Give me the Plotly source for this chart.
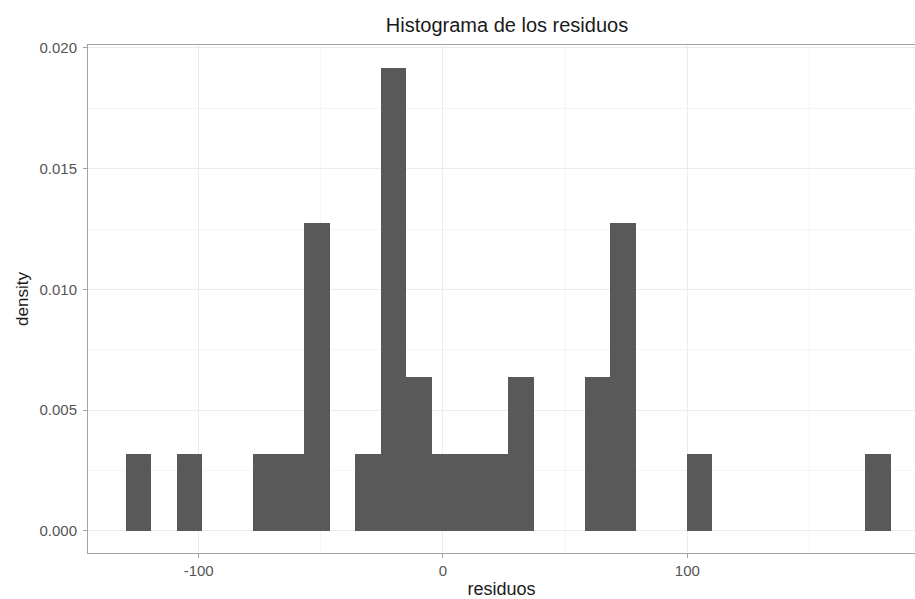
import numpy as np
import plotly.graph_objects as go

# Histogram of residuals: 30 equal-width bins, counts per bin
bin_start = -129.9
bin_width = 10.44
counts = [1, 0, 1, 0, 0, 1, 1, 4, 0, 1,
          6, 2, 1, 1, 1, 2, 0, 0, 2, 4,
          0, 0, 1, 0, 0, 0, 0, 0, 0, 1]
n_obs = sum(counts)

x_ticks = [-100, 0, 100]
x_tick_text = ["-100", "0", "100"]
y_ticks = [0.0, 0.005, 0.010, 0.015, 0.020]
y_tick_text = ["0.000", "0.005", "0.010", "0.015", "0.020"]

centers = bin_start + bin_width * (np.arange(len(counts)) + 0.5)
density = np.array(counts) / (n_obs * bin_width)

W, H = 915, 599
left, right, top, bottom = 88, 0, 45, 46

fig = go.Figure()
fig.add_trace(go.Bar(
    x=centers, y=density, width=bin_width,
    marker=dict(color="#595959", line=dict(width=0)),
    hoverinfo="x+y",
))

font_family = "Liberation Sans, Arial, Helvetica, sans-serif"
grid_major = "#ececec"
grid_minor = "#f5f5f5"
border = "#a3a3a3"

fig.update_layout(
    width=W, height=H,
    margin=dict(l=left, r=right, t=top, b=bottom, pad=0),
    paper_bgcolor="white", plot_bgcolor="white",
    bargap=0, showlegend=False,
    font=dict(family=font_family, color="#4d4d4d"),
    title=dict(
        text="Histograma de los residuos",
        x=(507 - left) / (W - left - right), xref="paper", xanchor="center",
        y=1 - 25 / H, yref="container", yanchor="middle",
        font=dict(size=20, color="#1a1a1a", family=font_family),
    ),
)

fig.update_xaxes(
    range=[-145.3, 193.2],
    tickmode="array", tickvals=x_ticks, ticktext=x_tick_text,
    tickfont=dict(size=15, color="#555555"),
    ticks="outside", ticklen=4, tickwidth=1, tickcolor=border,
    showline=True, linecolor=border, linewidth=1, mirror=True,
    showgrid=True, gridcolor=grid_major, gridwidth=1,
    minor=dict(tickmode="array", tickvals=[-150, -50, 50, 150],
               showgrid=True, gridcolor=grid_minor, gridwidth=1, ticks=""),
    zeroline=False,
    title=dict(text="residuos", standoff=6,
               font=dict(size=18, color="#1a1a1a", family=font_family)),
)

fig.update_yaxes(
    range=[-0.000911, 0.02012],
    tickmode="array", tickvals=y_ticks, ticktext=y_tick_text,
    tickfont=dict(size=15, color="#555555"),
    ticks="outside", ticklen=4, tickwidth=1, tickcolor=border,
    ticklabelstandoff=3,
    showline=True, linecolor=border, linewidth=1, mirror=False,
    showgrid=True, gridcolor=grid_major, gridwidth=1,
    minor=dict(tickmode="array",
               tickvals=[0.0025, 0.0075, 0.0125, 0.0175],
               showgrid=True, gridcolor=grid_minor, gridwidth=1, ticks=""),
    zeroline=False,
    title=dict(text="density", standoff=6,
               font=dict(size=17, color="#1a1a1a", family=font_family)),
)

fig.write_html("out.html")
